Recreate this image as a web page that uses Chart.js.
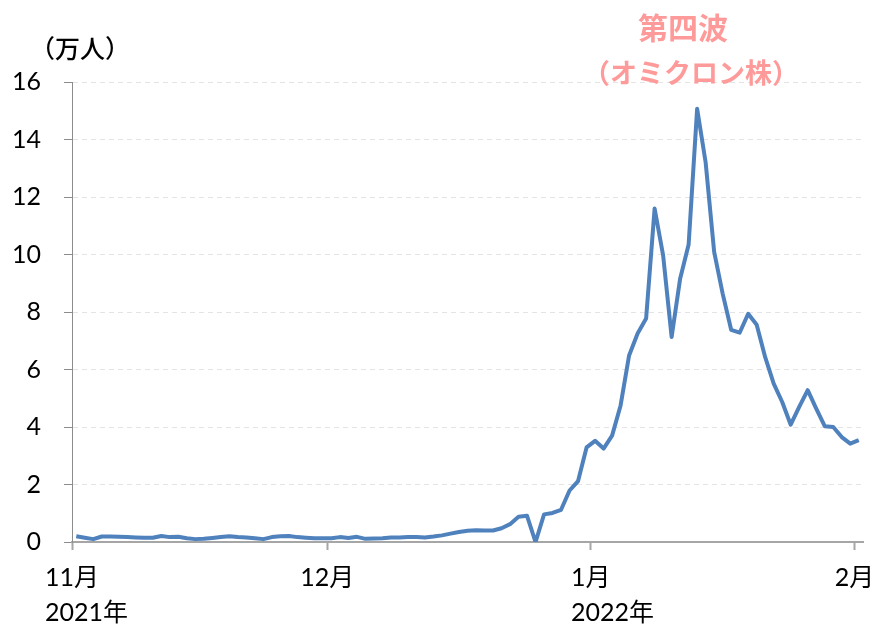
<!DOCTYPE html>
<html>
<head>
<meta charset="utf-8">
<script src="https://cdn.jsdelivr.net/npm/chart.js@4.4.0/dist/chart.umd.min.js"></script>
<style>
  body { margin: 0; background: #fff; }
  #wrap { position: relative; width: 877px; height: 629px; }
  .note { position: absolute; white-space: nowrap; font-family: "Noto Sans CJK JP", sans-serif; }
  #unit { left: 30px; top: 29px; font-size: 25px; font-weight: 500; color: #000; }
  #wave { left: 583px; top: 6px; width: 200px; text-align: center; font-weight: 700; color: #ff9a9a; line-height: 40px; }
</style>
</head>
<body>
<div id="wrap">
  <canvas id="chart" width="877" height="629"></canvas>
  <div class="note" id="unit">（万人）</div>
  <div class="note" id="wave"><span style="font-size:30px">第四波</span><br><span style="font-size:27px">（オミクロン株）</span></div>
</div>
<script>
// 新規感染者数（万人）, 2021/11/1 〜 2022/2/1 の日次
const novValues = [0.20, 0.15, 0.10, 0.19, 0.19, 0.18, 0.17, 0.16, 0.15, 0.15,
  0.21, 0.17, 0.18, 0.13, 0.10, 0.11, 0.14, 0.17, 0.20, 0.17,
  0.16, 0.13, 0.10, 0.17, 0.20, 0.21, 0.17, 0.15, 0.13, 0.13];
const decValues = [0.13, 0.17, 0.14, 0.18, 0.11, 0.12, 0.13, 0.16, 0.16, 0.17,
  0.17, 0.16, 0.19, 0.23, 0.29, 0.35, 0.39, 0.41, 0.40, 0.40,
  0.48, 0.62, 0.88, 0.91, 0.00, 0.96, 1.01, 1.12, 1.79, 2.12, 3.29];
const janValues = [3.52, 3.25, 3.70, 4.75, 6.49, 7.25, 7.77, 11.6, 9.97, 7.13,
  9.16, 10.35, 15.07, 13.2, 10.09, 8.64, 7.38, 7.28, 7.94, 7.56,
  6.43, 5.51, 4.87, 4.08, 4.70, 5.28, 4.64, 4.03, 4.00, 3.65, 3.42];
const febValues = [3.54];

// 月の目盛り（11/1 からの日数）とラベル
const monthDays = [0, 30, 61, 92];
const monthLabels = ["11月", "12月", "1月", "2月"];
const yearLabels = ["2021年", "", "2022年", ""];

const values = novValues.concat(decValues, janValues, febValues);
// 各日を日付の区間の中央に置く
const points = values.map((v, i) => ({ x: i + 0.5, y: v }));

const tickFont = { family: 'Lato, "Noto Sans CJK JP", sans-serif', size: 25 };

// 年ラベルは月ラベルの左端にそろえて2行目に描く
const yearLabelPlugin = {
  id: "yearLabels",
  afterDraw(chart) {
    const ctx = chart.ctx;
    const x = chart.scales.x;
    ctx.save();
    ctx.font = tickFont.size + "px " + tickFont.family;
    ctx.fillStyle = "#000";
    ctx.textAlign = "left";
    ctx.textBaseline = "middle";
    monthDays.forEach((d, k) => {
      if (!yearLabels[k]) return;
      const px = x.getPixelForValue(d);
      const w = ctx.measureText(monthLabels[k]).width;
      ctx.fillText(yearLabels[k], px - w / 2, x.bottom - 16);
    });
    ctx.restore();
  },
};

new Chart(document.getElementById("chart"), {
  type: "line",
  data: {
    datasets: [{
      data: points,
      borderColor: "#4f81bd",
      borderWidth: 4,
      borderJoinStyle: "round",
      pointRadius: 0,
      tension: 0,
      fill: false,
    }],
  },
  options: {
    responsive: false,
    animation: false,
    layout: { autoPadding: false, padding: { top: 82, right: 14, left: 0, bottom: 0 } },
    plugins: { legend: { display: false }, tooltip: { enabled: false } },
    scales: {
      x: {
        type: "linear",
        min: 0,
        max: values.length,
        afterBuildTicks: (s) => { s.ticks = monthDays.map((d) => ({ value: d })); },
        afterFit: (s) => { s.height = 87; s.paddingLeft = 0; s.paddingRight = 0; },
        ticks: {
          autoSkip: false,
          maxRotation: 0,
          padding: 13,
          color: "#000",
          font: tickFont,
          callback: (v) => monthLabels[monthDays.indexOf(v)],
        },
        grid: { drawOnChartArea: false, tickLength: 8, tickColor: "#a6a6a6", tickWidth: 2 },
        border: { color: "#a6a6a6", width: 2 },
      },
      y: {
        min: 0,
        max: 16,
        afterFit: (s) => { s.width = 72; },
        ticks: { stepSize: 2, padding: 23, color: "#000", font: tickFont },
        grid: { color: "#e4e4e4", lineWidth: 1, tickColor: "#8c8c8c", tickLength: 8 },
        border: { color: "#8c8c8c", width: 1, dash: [5, 4] },
      },
    },
  },
  plugins: [yearLabelPlugin],
});
</script>
</body>
</html>
